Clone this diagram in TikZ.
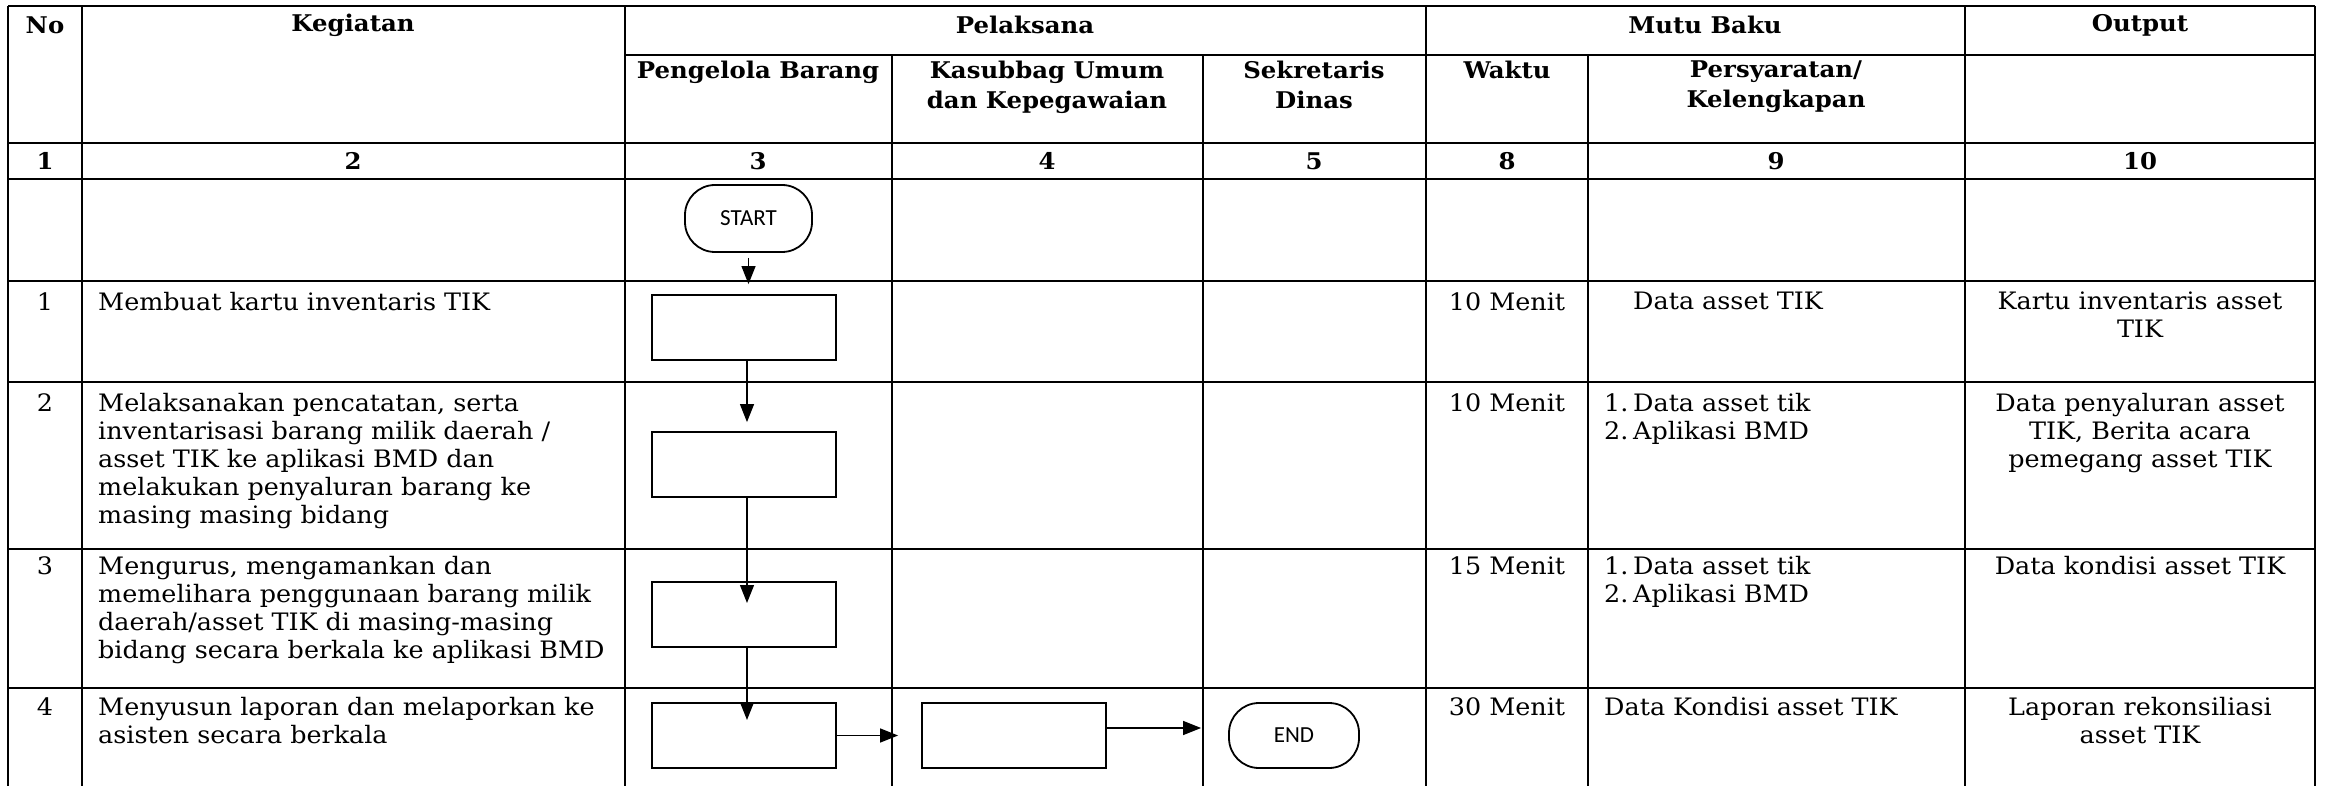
\documentclass[tikz,border=0pt]{standalone}
\usepackage{fontspec}
\setmainfont{DejaVu Serif}[FakeStretch=1.06]
\newfontfamily\termfont{Carlito}
\usetikzlibrary{arrows.meta, positioning, calc}

\begin{document}
\begin{tikzpicture}[x=1pt,y=-1pt,>={Triangle[length=18pt,width=14pt]},
	grid line/.style={line width=2pt},
	head text/.style={font=\fontsize{23}{30}\selectfont\bfseries,align=center,inner sep=0pt},
	body text/.style={font=\fontsize{24}{28}\selectfont,align=left,anchor=north west,inner sep=0pt},
	mid text/.style={font=\fontsize{24}{28}\selectfont,align=center,anchor=north,inner sep=0pt},
	proc box/.style={draw,line width=1.8pt,minimum width=184pt,minimum height=65pt,inner sep=0pt},
	term node/.style={draw,line width=1.8pt,rounded corners=30pt,minimum width=127pt,
		minimum height=67pt,inner sep=0pt,font=\termfont\fontsize{23}{23}\selectfont},
	flow line/.style={->,line width=1.2pt}]
	
	\useasboundingbox (0,0) rectangle (2326,786);
	
	% table grid
	\draw[grid line] (8,6) -- (2315,6);
	\draw[grid line] (625,55) -- (2315,55);
	\draw[grid line] (8,143) -- (2315,143);
	\draw[grid line] (8,179) -- (2315,179);
	\draw[grid line] (8,281) -- (2315,281);
	\draw[grid line] (8,382) -- (2315,382);
	\draw[grid line] (8,549) -- (2315,549);
	\draw[grid line] (8,688) -- (2315,688);
	\draw[grid line] (8,6) -- (8,786);
	\draw[grid line] (82,6) -- (82,786);
	\draw[grid line] (625,6) -- (625,786);
	\draw[grid line] (892,55) -- (892,786);
	\draw[grid line] (1203,55) -- (1203,786);
	\draw[grid line] (1426,6) -- (1426,786);
	\draw[grid line] (1588,55) -- (1588,786);
	\draw[grid line] (1965,6) -- (1965,786);
	\draw[grid line] (2315,6) -- (2315,786);
	
	% header
	\node[head text] (hno) at (45,25) {No};
	\node[head text] (hkeg) at (353,25) {Kegiatan};
	\node[head text] (hpel) at (1025,25) {Pelaksana};
	\node[head text] (hmutu) at (1705,25) {Mutu Baku};
	\node[head text] (hout) at (2140,25) {Output};
	\node[head text,anchor=north] (hpb) at (758,61) {Pengelola Barang};
	\node[head text,anchor=north] (hkas) at (1047,61) {Kasubbag Umum\\dan Kepegawaian};
	\node[head text,anchor=north] (hsek) at (1314,61) {Sekretaris\\Dinas};
	\node[head text,anchor=north] (hwak) at (1507,61) {Waktu};
	\node[head text,anchor=north] (hsyr) at (1776,61) {Persyaratan/\\Kelengkapan};
	
	% column numbers
	\node[head text] (n1) at (45,161) {1};
	\node[head text] (n2) at (353,161) {2};
	\node[head text] (n3) at (758,161) {3};
	\node[head text] (n4) at (1047,161) {4};
	\node[head text] (n5) at (1314,161) {5};
	\node[head text] (n8) at (1507,161) {8};
	\node[head text] (n9) at (1776,161) {9};
	\node[head text] (n10) at (2140,161) {10};
	
	% row 1
	\node[mid text] (no1) at (45,292) {1};
	\node[body text] (keg1) at (98,292) {Membuat kartu inventaris TIK};
	\node[mid text] (wak1) at (1507,292) {10 Menit};
	\node[body text] (syr1) at (1633,292) {Data asset TIK};
	\node[mid text] (out1) at (2140,292) {Kartu inventaris asset\\TIK};
	
	% row 2
	\node[mid text] (no2) at (45,393) {2};
	\node[body text] (keg2) at (98,393) {Melaksanakan pencatatan, serta\\inventarisasi barang milik daerah /\\asset TIK ke aplikasi BMD dan\\melakukan penyaluran barang ke\\masing masing bidang};
	\node[mid text] (wak2) at (1507,393) {10 Menit};
	\node[body text] (syr2) at (1604,393) {\makebox[29pt][l]{1.}Data asset tik\\\makebox[29pt][l]{2.}Aplikasi BMD};
	\node[mid text] (out2) at (2140,393) {Data penyaluran asset\\TIK, Berita acara\\pemegang asset TIK};
	
	% row 3
	\node[mid text] (no3) at (45,556) {3};
	\node[body text] (keg3) at (98,556) {Mengurus, mengamankan dan\\memelihara penggunaan barang milik\\daerah/asset TIK di masing-masing\\bidang secara berkala ke aplikasi BMD};
	\node[mid text] (wak3) at (1507,556) {15 Menit};
	\node[body text] (syr3) at (1604,556) {\makebox[29pt][l]{1.}Data asset tik\\\makebox[29pt][l]{2.}Aplikasi BMD};
	\node[mid text] (out3) at (2140,556) {Data kondisi asset TIK};
	
	% row 4
	\node[mid text] (no4) at (45,697) {4};
	\node[body text] (keg4) at (98,697) {Menyusun laporan dan melaporkan ke\\asisten secara berkala};
	\node[mid text] (wak4) at (1507,697) {30 Menit};
	\node[body text] (syr4) at (1604,697) {Data Kondisi asset TIK};
	\node[mid text] (out4) at (2140,697) {Laporan rekonsiliasi\\asset TIK};
	
	% flow
	\node[term node] (start) at (748.5,218.5) {START};
	\node[proc box] (box1) at (744,327.5) {};
	\node[proc box] (box2) at (744,464.5) {};
	\node[proc box] (box3) at (744,614.5) {};
	\node[proc box] (box4) at (744,735.5) {};
	\node[proc box] (box5) at (1014,735.5) {};
	\node[term node,minimum width=130pt,minimum height=65pt] (end) at (1294,735.5) {END};
	\coordinate (in3) at (747,603);
	\coordinate (in4) at (747,720);
	
	\draw[flow line,shorten <=5pt,shorten >=10pt] (start.south) -- (start.south |- box1.north);
	\draw[flow line,shorten >=9pt] ([xshift=3pt]box1.south) -- ([xshift=3pt]box2.north);
	\draw[flow line] ([xshift=3pt]box2.south) -- (in3);
	\draw[flow line] ([xshift=3pt]box3.south) -- (in4);
	\draw[flow line,shorten >=23pt] (box4) -- (box5);
	\draw[flow line,shorten >=27pt] ([yshift=7.5pt]box5.east) -- ([yshift=7.5pt]end.west);
\end{tikzpicture}
\end{document}
